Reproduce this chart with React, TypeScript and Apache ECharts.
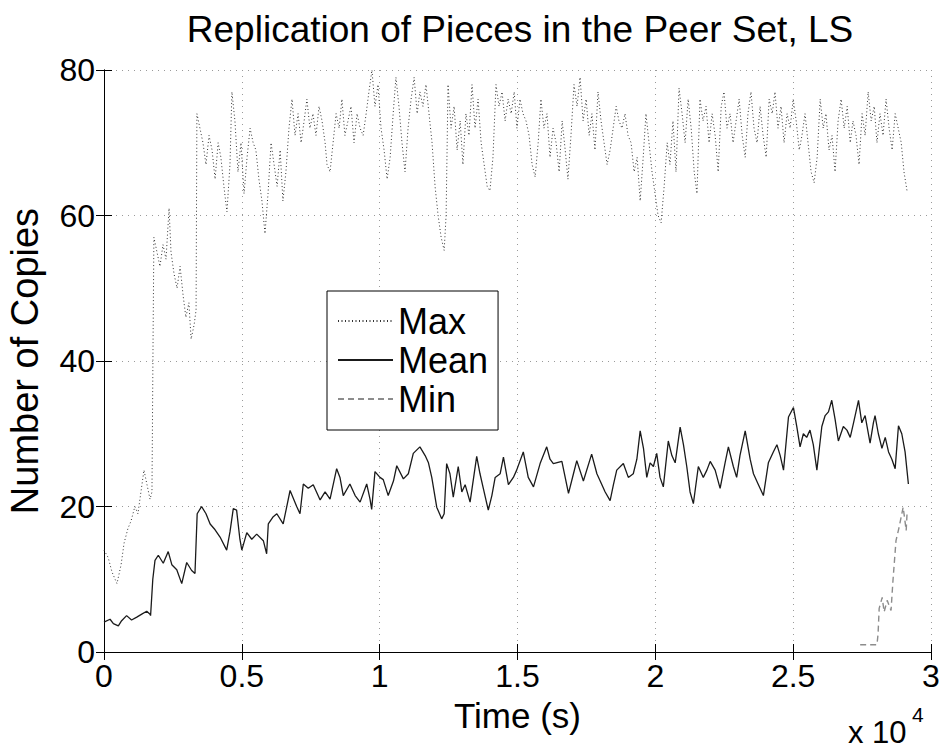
import React, { useEffect, useRef } from "react";
import * as echarts from "echarts";

const titleText = "Replication of Pieces in the Peer Set, LS";
const xName = "Time (s)";
const yName = "Number of Copies";
const seriesNames = ["Max", "Mean", "Min"];
const xTickValues = [0, 5000, 10000, 15000, 20000, 25000, 30000];
const yTickValues = [0, 20, 40, 60, 80];

// [time (s), copies]
const maxCopies: [number, number][] = [
  [0, 14], [150, 13], [290, 11], [470, 9.4], [620, 12], [730, 15], [870, 17], [980, 18], [1120, 20], [1230, 19],
  [1340, 22], [1450, 25], [1560, 23], [1670, 21], [1740, 22], [1780, 43], [1810, 57], [1920, 55], [2030, 53], [2140, 56],
  [2250, 54], [2360, 61], [2430, 55], [2540, 52], [2650, 50], [2760, 53], [2870, 49], [2970, 46], [3080, 48], [3160, 43],
  [3270, 45], [3340, 47], [3370, 74], [3480, 72], [3590, 70], [3700, 67], [3810, 71], [3920, 69], [4030, 65], [4140, 70],
  [4240, 68], [4350, 64], [4460, 60.5], [4570, 67], [4640, 77], [4750, 73], [4860, 66], [4970, 70], [5080, 63], [5190, 68],
  [5300, 72], [5410, 70], [5510, 69], [5620, 65], [5730, 62], [5840, 57.5], [5950, 63], [6060, 70], [6170, 67], [6280, 64],
  [6390, 69], [6490, 62], [6600, 66], [6710, 72], [6820, 76], [6930, 71], [7040, 74], [7150, 70], [7260, 73], [7360, 76],
  [7470, 72], [7580, 74], [7690, 71], [7800, 75], [7910, 73], [8020, 70], [8090, 67], [8200, 66], [8310, 70], [8420, 74],
  [8530, 72], [8630, 76], [8740, 71], [8850, 73], [8960, 75], [9070, 70], [9180, 74], [9290, 72], [9400, 71], [9510, 74],
  [9610, 77], [9720, 80], [9830, 75], [9940, 78], [10050, 72], [10160, 69], [10270, 65], [10380, 68], [10490, 74], [10590, 79],
  [10700, 75], [10810, 70], [10920, 66], [11030, 72], [11140, 76], [11250, 79], [11360, 74], [11460, 77], [11570, 75], [11680, 78],
  [11790, 74], [11900, 70], [12010, 64], [12120, 60], [12230, 57], [12340, 55.2], [12410, 60], [12480, 78], [12590, 72], [12700, 75],
  [12810, 69], [12920, 73], [13020, 67], [13130, 74], [13240, 71], [13350, 78], [13460, 72], [13570, 76], [13680, 70], [13790, 67],
  [13900, 64], [14000, 63.4], [14110, 68], [14220, 78], [14330, 75], [14440, 77], [14550, 73], [14660, 76], [14770, 74], [14880, 77],
  [14980, 72], [15090, 76], [15200, 74], [15310, 73], [15420, 71], [15530, 67], [15640, 65.3], [15750, 70], [15850, 76], [15960, 72],
  [16070, 74], [16180, 68], [16290, 72], [16400, 70], [16510, 66], [16620, 73], [16730, 69], [16830, 65], [16940, 71], [17050, 78],
  [17160, 75], [17270, 79], [17380, 73], [17490, 76], [17600, 71], [17700, 74], [17810, 69], [17920, 77], [18030, 73], [18140, 70],
  [18250, 67], [18360, 69], [18470, 72], [18580, 75], [18680, 73], [18790, 72], [18900, 74], [19010, 71], [19120, 70], [19230, 66],
  [19340, 68], [19450, 62], [19560, 68], [19660, 74], [19770, 70], [19880, 66], [19990, 63], [20100, 60], [20210, 59], [20320, 64],
  [20430, 70], [20530, 67], [20640, 73], [20750, 66], [20860, 77.5], [20970, 74], [21080, 70], [21190, 76], [21300, 72], [21410, 66],
  [21510, 63], [21620, 76], [21730, 73], [21840, 75], [21950, 70], [22060, 74], [22170, 71], [22280, 66], [22390, 75], [22490, 77],
  [22600, 72], [22710, 74], [22820, 70], [22930, 73], [23040, 76], [23150, 71], [23260, 68], [23360, 74], [23470, 77], [23580, 72],
  [23690, 70], [23800, 75], [23910, 71], [24020, 68], [24130, 76], [24240, 74], [24340, 77], [24450, 72], [24560, 75], [24670, 70],
  [24780, 74], [24890, 72], [25000, 76], [25110, 73], [25220, 69], [25320, 71], [25430, 74], [25540, 70], [25650, 66], [25760, 64.5],
  [25870, 68], [25980, 76], [26090, 72], [26190, 74], [26300, 69], [26410, 71], [26520, 66], [26630, 73], [26740, 76], [26850, 72],
  [26960, 75], [27070, 70], [27170, 73], [27280, 71], [27390, 67], [27500, 74], [27610, 71], [27720, 77], [27830, 73], [27940, 75],
  [28040, 70], [28150, 74], [28260, 71], [28370, 76], [28480, 72], [28590, 69], [28700, 74], [28810, 72], [28920, 70], [29020, 66],
  [29130, 63.4],
];

const meanCopies: [number, number][] = [
  [0, 4.1], [220, 4.5], [340, 3.9], [520, 3.6], [640, 4.3], [820, 5.0], [1000, 4.4], [1190, 4.8], [1370, 5.2], [1550, 5.6],
  [1670, 5.2], [1690, 5.0], [1770, 10], [1850, 12.6], [1970, 13.3], [2150, 12.2], [2330, 13.8], [2460, 12.0], [2640, 11.3], [2820, 9.4],
  [3000, 12.3], [3180, 11.2], [3300, 10.8], [3380, 19.0], [3540, 20.0], [3700, 19.0], [3850, 17.6], [4030, 16.8], [4210, 15.8], [4450, 14.0],
  [4570, 16.5], [4690, 19.7], [4810, 19.5], [4930, 15.5], [5000, 14.0], [5180, 16.4], [5360, 15.5], [5540, 16.2], [5780, 15.3], [5900, 13.5],
  [5960, 17.6], [6140, 18.6], [6270, 19.0], [6500, 17.6], [6750, 22.2], [6990, 20.0], [7110, 19.0], [7230, 23.1], [7410, 22.5], [7590, 23.0],
  [7840, 20.9], [8020, 22.0], [8200, 21.0], [8440, 25.2], [8560, 24.0], [8680, 21.5], [8920, 23.1], [9110, 21.5], [9290, 20.6], [9530, 23.1],
  [9650, 21.0], [9710, 19.6], [9830, 24.8], [10010, 24.0], [10130, 23.7], [10310, 21.5], [10500, 23.5], [10620, 25.6], [10860, 23.8], [11040, 24.5],
  [11220, 27.3], [11460, 28.2], [11650, 27.0], [11770, 26.0], [11890, 24.0], [12070, 19.9], [12250, 18.3], [12340, 19.0], [12430, 25.9], [12550, 24.5],
  [12670, 21.3], [12850, 25.5], [12980, 22.0], [13100, 23.0], [13280, 20.6], [13520, 26.9], [13640, 24.5], [13760, 22.5], [13940, 19.5], [14070, 21.5],
  [14190, 24.0], [14370, 24.5], [14490, 26.8], [14670, 23.0], [14850, 24.0], [14970, 25.0], [15210, 27.5], [15390, 24.0], [15580, 22.7], [15820, 25.9],
  [16060, 28.2], [16180, 26.5], [16300, 25.9], [16610, 26.2], [16850, 21.8], [17030, 24.5], [17150, 26.3], [17390, 23.5], [17690, 27.2], [17880, 24.5],
  [18000, 23.5], [18180, 22.0], [18360, 20.8], [18480, 23.0], [18600, 25.0], [18840, 25.9], [19020, 24.0], [19200, 24.5], [19330, 26.5], [19450, 30.4],
  [19570, 28.0], [19690, 24.0], [19810, 26.0], [19930, 25.5], [20050, 27.3], [20170, 24.0], [20290, 22.7], [20470, 29.0], [20600, 27.0], [20720, 26.0],
  [20900, 30.9], [21020, 28.5], [21140, 25.5], [21260, 22.0], [21380, 20.4], [21560, 25.5], [21740, 24.0], [21870, 25.0], [21990, 26.2], [22170, 25.0],
  [22350, 22.5], [22530, 26.0], [22650, 28.2], [22830, 25.5], [22950, 24.0], [23070, 27.0], [23260, 30.4], [23440, 26.5], [23560, 24.5], [23740, 23.0],
  [23920, 21.5], [24100, 26.0], [24280, 27.5], [24410, 28.5], [24530, 27.0], [24650, 25.0], [24830, 32.3], [25010, 33.6], [25130, 31.0], [25250, 28.2],
  [25370, 30.0], [25490, 29.5], [25610, 30.5], [25730, 28.5], [25860, 25.0], [26040, 31.0], [26160, 32.5], [26280, 33.0], [26400, 34.6], [26520, 32.0],
  [26640, 29.0], [26820, 31.0], [26950, 30.5], [27070, 29.5], [27190, 31.5], [27370, 34.6], [27490, 31.5], [27610, 32.5], [27790, 28.7], [27910, 31.5],
  [27970, 32.5], [28090, 30.0], [28220, 28.0], [28340, 29.5], [28460, 27.5], [28580, 26.5], [28700, 25.2], [28820, 31.1], [28940, 30.0], [29060, 27.5],
  [29180, 23.1],
];

const minCopies: [number, number][] = [
  [27430, 1.0], [28040, 1.0], [28080, 2.5], [28120, 6.0], [28230, 7.5], [28300, 5.5], [28410, 7.1], [28550, 5.7], [28620, 9.8],
  [28730, 15.3], [28840, 17.1], [28990, 19.9], [29100, 16.7], [29130, 19.0],
];

const FONT = "Liberation Sans";

export default function App() {
  const ref = useRef<HTMLDivElement>(null);

  useEffect(() => {
    if (!ref.current) return;
    const chart = echarts.init(ref.current, undefined, { renderer: "svg" });

    const axisLine = { show: true, lineStyle: { color: "#000", width: 1 } };
    const axisTick = { show: true, inside: true, length: 8, lineStyle: { color: "#000", width: 1 } };
    const gridLine = { show: true, lineStyle: { color: "#9a9a9a", width: 1, type: [1, 5] as number[] } };

    chart.setOption({
      animation: false,
      backgroundColor: "#ffffff",
      title: {
        text: titleText,
        left: 515,
        top: 6,
        textAlign: "center",
        textStyle: { fontFamily: FONT, fontSize: 37, fontWeight: "normal", color: "#000" },
      },
      grid: { left: 104, top: 70, right: 12, bottom: 97, outerBoundsMode: "none" },
      legend: {
        orient: "vertical",
        left: 327,
        top: 291,
        padding: [12, 10, 13, 10],
        itemGap: 3,
        itemWidth: 55,
        itemHeight: 14,
        backgroundColor: "#fff",
        borderColor: "#000",
        borderWidth: 1,
        borderRadius: 0,
        itemStyle: { color: "rgba(0,0,0,0)", borderColor: "rgba(0,0,0,0)", borderWidth: 0 },
        textStyle: { fontFamily: FONT, fontSize: 36, color: "#000" },
        data: seriesNames,
      },
      xAxis: [
        {
          type: "value",
          min: xTickValues[0],
          max: xTickValues[xTickValues.length - 1],
          interval: xTickValues[1] - xTickValues[0],
          name: xName,
          nameLocation: "middle",
          nameGap: 46,
          nameTextStyle: { fontFamily: FONT, fontSize: 35, color: "#000" },
          axisLine,
          axisTick,
          axisLabel: {
            fontFamily: FONT,
            fontSize: 32,
            color: "#000",
            margin: 8,
            formatter: (v: number) => String(v / 10000),
          },
          splitLine: gridLine,
        },
        {
          type: "value",
          position: "top",
          min: xTickValues[0],
          max: xTickValues[xTickValues.length - 1],
          interval: xTickValues[1] - xTickValues[0],
          axisLine,
          axisTick,
          axisLabel: { show: false },
          splitLine: { show: false },
        },
      ],
      yAxis: [
        {
          type: "value",
          min: yTickValues[0],
          max: yTickValues[yTickValues.length - 1],
          interval: yTickValues[1] - yTickValues[0],
          name: yName,
          nameLocation: "middle",
          nameGap: 60,
          nameTextStyle: { fontFamily: FONT, fontSize: 38, color: "#000" },
          axisLine,
          axisTick,
          axisLabel: { fontFamily: FONT, fontSize: 32, color: "#000", margin: 9 },
          splitLine: gridLine,
        },
        {
          type: "value",
          position: "right",
          min: yTickValues[0],
          max: yTickValues[yTickValues.length - 1],
          interval: yTickValues[1] - yTickValues[0],
          axisLine,
          axisTick,
          axisLabel: { show: false },
          splitLine: { show: false },
        },
      ],
      series: [
        {
          name: seriesNames[0],
          type: "line",
          data: maxCopies,
          symbol: "none",
          showSymbol: false,
          lineStyle: { color: "#333", width: 1, type: [1, 2.5] },
          itemStyle: { color: "#333" },
          z: 2,
        },
        {
          name: seriesNames[1],
          type: "line",
          data: meanCopies,
          symbol: "none",
          showSymbol: false,
          lineStyle: { color: "#1a1a1a", width: 1.3, type: "solid" },
          itemStyle: { color: "#1a1a1a" },
          z: 3,
        },
        {
          name: seriesNames[2],
          type: "line",
          data: minCopies,
          symbol: "none",
          showSymbol: false,
          lineStyle: { color: "#8c8c8c", width: 1.4, type: [6, 4] },
          itemStyle: { color: "#8c8c8c" },
          z: 3,
        },
      ],
      graphic: [
        {
          type: "text",
          left: 848,
          top: 717,
          style: { text: "x 10", fontFamily: FONT, fontSize: 31, fill: "#000" },
        },
        {
          type: "text",
          left: 912,
          top: 704,
          style: { text: "4", fontFamily: FONT, fontSize: 21, fill: "#000" },
        },
      ],
    });

    return () => chart.dispose();
  }, []);

  return (
    <div
      ref={ref}
      style={{ position: "absolute", left: 0, top: 0, width: 943, height: 749, background: "#fff" }}
    />
  );
}
